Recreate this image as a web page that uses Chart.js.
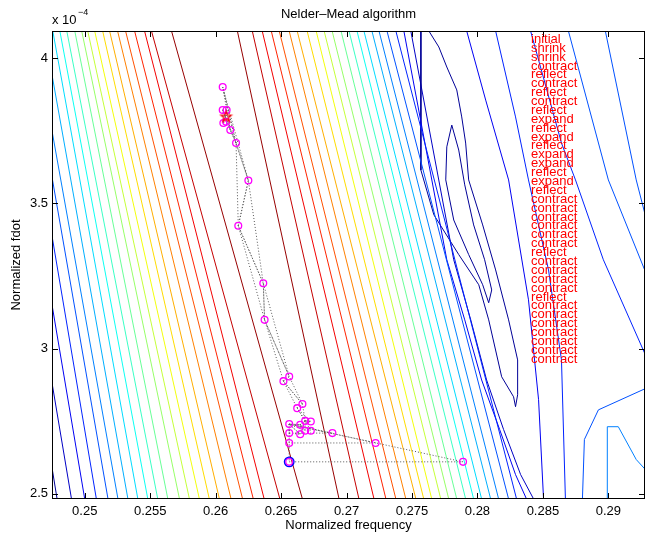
<!DOCTYPE html>
<html>
<head>
<meta charset="utf-8">
<script src="https://cdn.jsdelivr.net/npm/chart.js@4.4.1/dist/chart.umd.min.js"></script>
<style>
  body { margin: 0; background: #fff; }
</style>
</head>
<body>
<canvas id="c" width="652" height="533"></canvas>
<script>
// axis setup (fdot values are in units of 1e-4)
const xTicks = [0.25, 0.255, 0.26, 0.265, 0.27, 0.275, 0.28, 0.285, 0.29];
const yTicks = [2.5, 3, 3.5, 4];
const xRange = [0.2475, 0.2928];
const yRange = [2.482, 4.094];

// contour lines left of the ridge, level 0 (dark blue) .. 21 (dark red)
const westLevel = [0,1,2,3,4,5,6,7,8,9,10,11,12,13,14,15,16,17,18,19,20,21];
const westPaths = [
  [[0.2475,2.590],[0.24789,2.482]],
  [[0.2475,2.882],[0.24899,2.482]],
  [[0.2475,3.151],[0.25000,2.482]],
  [[0.2475,3.388],[0.25089,2.482]],
  [[0.2475,3.591],[0.25178,2.482]],
  [[0.2475,3.750],[0.25254,2.482]],
  [[0.2475,3.943],[0.25330,2.482]],
  [[0.24756,4.094],[0.25406,2.482]],
  [[0.24810,4.094],[0.25482,2.482]],
  [[0.24863,4.094],[0.25558,2.482]],
  [[0.24924,4.094],[0.25635,2.482]],
  [[0.24977,4.094],[0.25724,2.482]],
  [[0.25023,4.094],[0.25800,2.482]],
  [[0.25076,4.094],[0.25876,2.482]],
  [[0.25137,4.094],[0.25952,2.482]],
  [[0.25190,4.094],[0.26029,2.482]],
  [[0.25251,4.094],[0.26118,2.482]],
  [[0.25312,4.094],[0.26206,2.482]],
  [[0.25381,4.094],[0.26288,2.482]],
  [[0.25457,4.094],[0.26371,2.482]],
  [[0.25510,4.094],[0.26491,2.482]],
  [[0.25663,4.094],[0.26663,2.482]]
];

// contour lines right of the ridge, going down towards the valley
const eastLevel = [21,20,19,18,17,16,15,14,13,12,11,10,9,8,7,6,5,4,3,2];
const eastPaths = [
  [[0.26166,4.094],[0.26943,2.482]],
  [[0.26280,4.094],[0.27095,2.482]],
  [[0.26356,4.094],[0.27210,2.482]],
  [[0.26425,4.094],[0.27301,2.482]],
  [[0.26486,4.094],[0.27377,2.482]],
  [[0.26562,4.094],[0.27453,2.482]],
  [[0.26623,4.094],[0.27530,2.482]],
  [[0.26699,4.094],[0.27590,2.482]],
  [[0.26768,4.094],[0.27651,2.482]],
  [[0.26829,4.094],[0.27720,2.482]],
  [[0.26890,4.094],[0.27781,2.482]],
  [[0.26958,4.094],[0.27842,2.482]],
  [[0.27019,4.094],[0.27910,2.482]],
  [[0.27080,4.094],[0.27971,2.482]],
  [[0.27133,4.094],[0.28032,2.482]],
  [[0.27194,4.094],[0.28101,2.482]],
  [[0.27248,4.094],[0.28162,2.482]],
  [[0.27309,4.094],[0.28238,2.482]],
  [[0.27377,4.094],[0.28299,2.482]],
  [[0.27438,4.094],[0.27766,3.306],[0.27903,3.099],[0.28032,2.892],[0.28170,2.721],[0.28291,2.566],[0.28375,2.482]]
];

// valley and far right contours
const valleyLevel = [0, 0, 1, 2, 3, 3, 4, 4, 4, 5];
const valleyPaths = [
  [[0.27568,4.094],[0.27568,3.615],[0.27667,3.461],[0.27857,3.324],[0.28010,3.220],[0.28086,3.099],[0.28185,2.903],
   [0.28276,2.834],[0.28291,2.800],[0.28307,2.841],[0.28307,2.961],[0.28238,3.099],[0.28139,3.271],[0.28040,3.426],
   [0.27933,3.581],[0.27910,3.708],[0.27880,3.798],[0.27842,3.891],[0.27766,3.970],[0.27705,4.039],[0.27629,4.094]],
  [[0.27804,3.770],[0.27766,3.695],[0.27758,3.581],[0.27819,3.443],[0.27933,3.324],[0.28040,3.220],[0.28086,3.158],
   [0.28109,3.202],[0.28055,3.306],[0.27971,3.426],[0.27903,3.564],[0.27857,3.684],[0.27804,3.770]],
  [[0.27491,4.094],[0.27819,3.306],[0.27949,3.099],[0.28070,2.892],[0.28200,2.721],[0.28330,2.566],[0.28429,2.482]],
  [[0.27918,4.094],[0.28063,3.856],[0.28238,3.581],[0.28390,3.168],[0.28467,2.824],[0.28505,2.482]],
  [[0.28139,4.094],[0.28291,3.798],[0.28390,3.581],[0.28543,3.271],[0.28642,2.961],[0.28672,2.482]],
  [[0.28406,4.094],[0.28642,3.708],[0.28749,3.581],[0.28962,3.306],[0.2935,2.91]],
  [[0.28695,4.094],[0.29000,3.581],[0.2935,3.19]],
  [[0.28977,4.094],[0.29213,3.581],[0.2935,3.34]],
  [[0.2935,2.876],[0.28924,2.789],[0.28817,2.687],[0.28802,2.482]],
  [[0.28992,2.482],[0.28992,2.731],[0.29076,2.731],[0.29213,2.618],[0.2935,2.55]]
];

// simplex vertices visited by the search
const vertexX = [0.26562,0.27890,0.26562,0.26562,0.27222,0.26562,0.26892,0.26646,0.26646,0.26684,0.26727,0.26684,0.26727,0.26623,0.26663,0.26518,0.26562,0.26374,0.26364,0.26173,0.26250,0.26156,0.26112,0.26059,0.26080,0.26054,0.26084,0.26054];
const vertexY = [2.610,2.610,2.740,2.675,2.675,2.709,2.709,2.705,2.738,2.717,2.717,2.751,2.749,2.795,2.809,2.888,2.904,3.099,3.225,3.423,3.579,3.708,3.753,3.777,3.781,3.822,3.822,3.901];
const simplexIdx = [
  [0,1,2],[2,3,4],[2,5,6],[2,5,7],[2,7,8],[2,8,9],[8,9,11],[8,11,10],[11,8,12],
  [11,12,13],[11,13,14],[13,14,15],[14,15,16],[15,16,17],[16,17,18],[17,18,19],
  [18,19,20],[19,20,21],[20,21,27],[21,27,22],[21,22,25],[22,25,26],[25,26,23],[23,24,26]
];
const startPoint = [0.26562, 2.610];
const bestPoint = [0.26080, 3.798];

const stepNames = ['initial','shrink','shrink','contract','reflect','contract','reflect','contract','reflect',
  'expand','reflect','expand','reflect','expand','expand','reflect','expand','reflect',
  'contract','contract','contract','contract','contract','contract','reflect',
  'contract','contract','contract','contract','reflect',
  'contract','contract','contract','contract','contract','contract','contract'];
const labelX = 0.2841, labelTop = 4.0654, labelStep = 0.0306;

const FONT = '"Liberation Sans", Arial, Helvetica, sans-serif';
Chart.defaults.font.family = FONT;
Chart.defaults.color = '#000';

function jet(level) {
  const t = (level + 0.5) / 22;
  const f = v => Math.round(255 * Math.max(0, Math.min(1, v)));
  return `rgb(${f(1.5 - Math.abs(4 * t - 3))},${f(1.5 - Math.abs(4 * t - 2))},${f(1.5 - Math.abs(4 * t - 1))})`;
}

function pentagram(color, r) {
  const c = document.createElement('canvas');
  const s = Math.ceil(r * 2 + 4);
  c.width = c.height = s;
  const g = c.getContext('2d');
  g.strokeStyle = color;
  g.lineWidth = 1.2;
  g.beginPath();
  for (let i = 0; i < 10; i++) {
    const a = -Math.PI / 2 + i * Math.PI / 5;
    const rr = i % 2 ? r * 0.4 : r;
    g.lineTo(s / 2 + rr * Math.cos(a), s / 2 + rr * Math.sin(a));
  }
  g.closePath();
  g.stroke();
  return c;
}

const contourSet = (path, level) => ({
  data: path.map(p => ({x: p[0], y: p[1]})),
  showLine: true,
  borderColor: jet(level),
  borderWidth: 1,
  pointRadius: 0,
  order: 10
});

const datasets = [];
westPaths.forEach((p, i) => datasets.push(contourSet(p, westLevel[i])));
eastPaths.forEach((p, i) => datasets.push(contourSet(p, eastLevel[i])));
valleyPaths.forEach((p, i) => datasets.push(contourSet(p, valleyLevel[i])));

simplexIdx.forEach(tri => {
  const pts = tri.concat(tri[0]).map(k => ({x: vertexX[k], y: vertexY[k]}));
  datasets.push({
    data: pts,
    showLine: true,
    borderColor: '#555',
    borderWidth: 1,
    borderDash: [1, 2],
    pointRadius: 0,
    order: 5
  });
});

datasets.push({
  data: vertexX.map((x, i) => ({x: x, y: vertexY[i]})),
  pointStyle: 'circle',
  pointRadius: 3.4,
  borderWidth: 1.3,
  borderColor: '#ff00ff',
  backgroundColor: 'rgba(0,0,0,0)',
  order: 2
});
datasets.push({
  data: [{x: startPoint[0], y: startPoint[1]}],
  pointStyle: 'circle',
  pointRadius: 4.8,
  borderWidth: 1.3,
  borderColor: '#0000ff',
  backgroundColor: 'rgba(0,0,0,0)',
  order: 1
});
datasets.push({
  data: [{x: bestPoint[0], y: bestPoint[1]}],
  pointStyle: pentagram('#ff0000', 5.5),
  pointRadius: 6,
  order: 0
});

const decorations = {
  id: 'decorations',
  afterLayout(chart) {
    const t = chart.titleBlock;
    t.left = chart.chartArea.left;
    t.right = chart.chartArea.right;
  },
  afterDatasetsDraw(chart) {
    const {ctx, chartArea: a, scales: {x, y}} = chart;
    ctx.save();
    ctx.strokeStyle = '#000';
    ctx.lineWidth = 1;
    ctx.beginPath();
    xTicks.forEach(v => {
      const px = Math.round(x.getPixelForValue(v)) + 0.5;
      ctx.moveTo(px, a.bottom); ctx.lineTo(px, a.bottom - 6);
      ctx.moveTo(px, a.top); ctx.lineTo(px, a.top + 6);
    });
    yTicks.forEach(v => {
      const py = Math.round(y.getPixelForValue(v)) + 0.5;
      ctx.moveTo(a.left, py); ctx.lineTo(a.left + 6, py);
      ctx.moveTo(a.right, py); ctx.lineTo(a.right - 6, py);
    });
    ctx.stroke();
    ctx.strokeRect(Math.round(a.left) + 0.5, Math.round(a.top) + 0.5,
      Math.round(a.width) - 1, Math.round(a.height) - 1);

    ctx.fillStyle = '#ff0000';
    ctx.font = '13px ' + FONT;
    ctx.textAlign = 'left';
    ctx.textBaseline = 'middle';
    const lx = x.getPixelForValue(labelX);
    stepNames.forEach((s, i) => ctx.fillText(s, lx, y.getPixelForValue(labelTop - i * labelStep)));

    ctx.fillStyle = '#000';
    ctx.fillText('x 10', a.left, 20);
    ctx.font = '9px ' + FONT;
    ctx.fillText('\u22124', a.left + 26, 13);
    ctx.restore();
  }
};

new Chart(document.getElementById('c'), {
  type: 'scatter',
  data: {datasets},
  options: {
    responsive: false,
    animation: false,
    devicePixelRatio: 1,
    layout: {padding: {top: 0, right: 5, bottom: 0, left: 0}},
    plugins: {
      legend: {display: false},
      tooltip: {enabled: false},
      title: {
        display: true,
        text: 'Nelder\u2013Mead algorithm',
        color: '#000',
        font: {size: 13, weight: 'normal'},
        padding: {top: 7, bottom: 8.4}
      }
    },
    scales: {
      x: {
        type: 'linear',
        min: xRange[0],
        max: xRange[1],
        afterBuildTicks: s => { s.ticks = xTicks.map(v => ({value: v})); },
        afterFit: s => { s.height = 34; },
        grid: {display: false, drawTicks: false},
        border: {display: false},
        ticks: {
          autoSkip: false, maxRotation: 0, padding: 5,
          font: {size: 13}, color: '#000',
          callback: v => String(v)
        },
        title: {display: true, text: 'Normalized frequency', font: {size: 13}, color: '#000', padding: {top: 0, bottom: 0}}
      },
      y: {
        type: 'linear',
        min: yRange[0],
        max: yRange[1],
        afterBuildTicks: s => { s.ticks = yTicks.map(v => ({value: v})); },
        afterFit: s => { s.width = 52; },
        grid: {display: false, drawTicks: false},
        border: {display: false},
        ticks: {
          autoSkip: false, padding: 4,
          font: {size: 13}, color: '#000',
          callback: v => String(v)
        },
        title: {display: true, text: 'Normalized fdot', font: {size: 13}, color: '#000', padding: {top: 9, bottom: 0}}
      }
    }
  },
  plugins: [decorations]
});
</script>
</body>
</html>
